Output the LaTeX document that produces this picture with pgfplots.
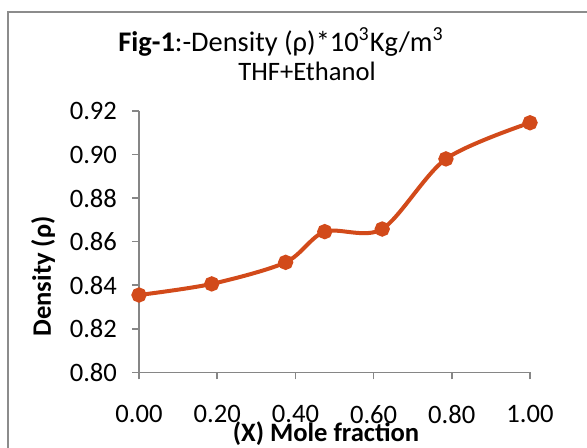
\documentclass[border=0pt]{standalone}
\usepackage{fontspec}
\setmainfont{Carlito}
\usepackage{pgfplots}
\pgfplotsset{compat=1.18}
\definecolor{densline}{RGB}{210,74,26}
\definecolor{axgray}{RGB}{134,134,134}
\definecolor{framegray}{RGB}{140,140,140}
\begin{document}
\begin{tikzpicture}
\useasboundingbox (0,0) rectangle (293.5pt,223.5pt);
% chart frame
\draw[framegray, line width=0.8pt] (4pt,-1pt) -- (4pt,217.5pt) -- (294.5pt,217.5pt);
\begin{axis}[
  at={(69.5pt,37.35pt)}, anchor=south west,
  scale only axis, width=195.5pt, height=130.65pt,
  xmin=0, xmax=1, ymin=0.80, ymax=0.92,
  xtick={0,0.2,...,1.0}, ytick={0.80,0.82,...,0.921},
  axis x line*=bottom, axis y line*=left,
  axis line style={axgray, line width=0.75pt},
  tick style={axgray, line width=0.75pt},
  major tick length=3.5pt, tick align=outside,
  tick label style={font=\fontsize{13.3}{15}\selectfont},
  /pgf/number format/assume math mode=true,
  /pgf/number format/.cd, fixed, fixed zerofill, precision=2,
  /pgfplots/.cd,
  xticklabel style={yshift=-9.5pt},
  yticklabel style={xshift=-4pt},
  clip=false,
]
\addplot[densline, line width=2pt, smooth, mark=*, mark size=2.8pt,
  mark options={fill=densline, draw=densline}] coordinates {
  (0.000,0.8355) (0.186,0.8406) (0.375,0.8505) (0.475,0.8646)
  (0.622,0.8658) (0.785,0.8980) (1.000,0.9146)};
\end{axis}
\node[anchor=base] at (140.5pt,198pt) {\fontsize{14.2}{16}\selectfont\textbf{Fig-1}:-Density (ρ)*10\textsuperscript{3}Kg/m\textsuperscript{3}};
\node[anchor=base] at (153.5pt,183.5pt) {\fontsize{13.3}{15}\selectfont THF+Ethanol};
\node[rotate=90] at (21.5pt,85.25pt) {\fontsize{13.3}{15}\selectfont\bfseries Density (ρ)};
\node at (163pt,6.5pt) {\fontsize{13.3}{15}\selectfont\bfseries (X) Mole fraction};
\end{tikzpicture}
\end{document}
